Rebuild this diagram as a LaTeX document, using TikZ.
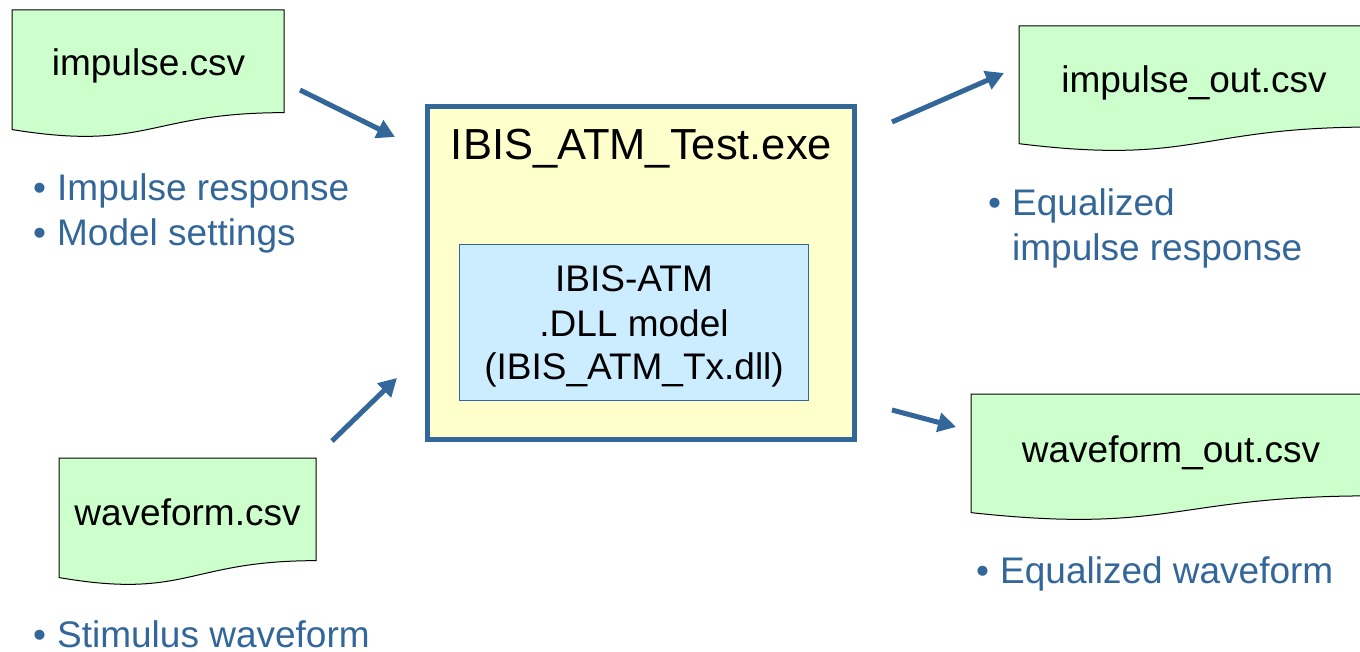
\documentclass[tikz,border=0pt]{standalone}
\usepackage{fontspec}
\setmainfont{Liberation Sans}
\usetikzlibrary{arrows.meta}
\definecolor{flowblue}{HTML}{336699}
\definecolor{docgreen}{HTML}{CCFFCC}
\definecolor{exeyellow}{HTML}{FFFFCC}
\definecolor{dllblue}{HTML}{CCECFF}
\newcommand{\docshapepath}[4]{%
  (#1,#2) -- ({#1+#3},#2) -- ({#1+#3},{#2+0.802*#4})
  .. controls ({#1+0.5*#3},{#2+0.802*#4}) and ({#1+0.5*#3},{#2+1.107*#4}) ..
  (#1,{#2+0.934*#4}) -- cycle}
\newcommand{\bulletmark}{\makebox[24pt][l]{•}}
\begin{document}
\begin{tikzpicture}[x=1pt,y=-1pt,
  docstyle/.style={draw=black, line width=1pt, fill=docgreen},
  fname/.style={font=\fontsize{37}{44}\selectfont, anchor=base, inner sep=0pt, text=black},
  exebox/.style={draw=flowblue, line width=5pt, fill=exeyellow, rectangle,
    inner sep=0pt, minimum width=427pt, minimum height=333pt},
  dllbox/.style={draw=flowblue, line width=1.5pt, fill=dllblue, rectangle,
    inner sep=0pt, minimum width=349pt, minimum height=156pt},
  exetitle/.style={font=\fontsize{43.5}{50}\selectfont, anchor=base, inner sep=0pt},
  bullets/.style={font=\fontsize{37}{44.5}\selectfont, text=flowblue, anchor=base west, inner sep=0pt},
  flowarrow/.style={draw=flowblue, line width=5pt, -{Triangle[length=18pt,width=19pt]}}
]
\useasboundingbox (0,0) rectangle (1360,652);
\clip (0,0) rectangle (1360,652);
\fill[white] (0,0) rectangle (1360,652);

% document shapes
\path[docstyle] \docshapepath{12}{10}{272}{128};
\path[docstyle] \docshapepath{59}{458}{257}{128};
\path[docstyle] \docshapepath{1019}{26}{354}{126};
\path[docstyle] \docshapepath{971}{394}{402}{127};

\node[fname] (impin) at (148.5,76) {impulse.csv};
\node[fname] (wavein) at (187.5,525) {waveform.csv};
\node[fname] (impout) at (1194,93) {impulse\_out.csv};
\node[fname] (waveout) at (1171,462) {waveform\_out.csv};

% main executable box
\node[exebox] (exe) at (641,273) {};
\node[exetitle] (exelabel) at (641.5,160) {IBIS\_ATM\_Test.exe};
\node[dllbox] (dll) at (634,322.5) {};
\node[fname] (dlllabel) at (634,292) {\begin{tabular}[t]{@{}c@{}}IBIS-ATM\\.DLL model\\(IBIS\_ATM\_Tx.dll)\end{tabular}};

% bullet texts
\node[bullets] (inlist) at (33,201) {\begin{tabular}[t]{@{}p{24pt}@{}l@{}}•&Impulse response\\•&Model settings\end{tabular}};
\node[bullets] (stimlist) at (33,647) {\bulletmark Stimulus waveform};
\node[bullets] (eqimplist) at (988,216) {\begin{tabular}[t]{@{}p{24pt}@{}l@{}}•&Equalized\\&impulse response\end{tabular}};
\node[bullets] (eqwavelist) at (976,583) {\bulletmark Equalized waveform};

% arrows
\coordinate (a1s) at (300,90);  \coordinate (a1e) at (395,137);
\coordinate (a2s) at (332,441); \coordinate (a2e) at (397,378);
\coordinate (a3s) at (892,122); \coordinate (a3e) at (1004,73);
\coordinate (a4s) at (892,410); \coordinate (a4e) at (956,427);
\draw[flowarrow] (a1s) -- (a1e);
\draw[flowarrow] (a2s) -- (a2e);
\draw[flowarrow] (a3s) -- (a3e);
\draw[flowarrow] (a4s) -- (a4e);
\end{tikzpicture}
\end{document}
